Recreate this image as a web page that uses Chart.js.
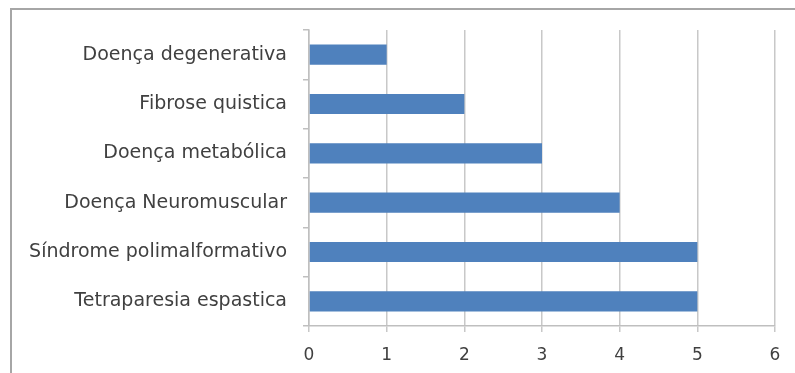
<!DOCTYPE html>
<html>
<head>
<meta charset="utf-8">
<script src="https://cdn.jsdelivr.net/npm/chart.js@4/dist/chart.umd.min.js"></script>
<style>
  html, body { margin: 0; padding: 0; background: #fff; }
  #wrap { position: relative; width: 795px; height: 373px; overflow: hidden; }
  #frame { position: absolute; left: 10px; top: 8px; width: 820px; height: 400px; border: 2px solid #a6a6a6; box-sizing: border-box; }
  #chart { position: absolute; left: 0; top: 0; }
</style>
</head>
<body>
<div id="wrap">
  <div id="frame"></div>
  <canvas id="chart" width="795" height="373"></canvas>
</div>
<script>
const categories = [
  "Doença degenerativa",
  "Fibrose quistica",
  "Doença metabólica",
  "Doença Neuromuscular",
  "Síndrome polimalformativo",
  "Tetraparesia espastica"
];
const values = [1, 2, 3, 4, 5, 5];
const xTicks = [0, 1, 2, 3, 4, 5, 6];

const ctx = document.getElementById("chart").getContext("2d");
new Chart(ctx, {
  type: "bar",
  data: {
    labels: categories,
    datasets: [{
      data: values,
      backgroundColor: "#4f81bd",
      borderWidth: 0,
      categoryPercentage: 1,
      barPercentage: 0.41
    }]
  },
  options: {
    indexAxis: "y",
    responsive: false,
    animation: false,
    layout: { padding: { left: 10, top: 30, right: 20, bottom: 0 } },
    plugins: { legend: { display: false }, tooltip: { enabled: false } },
    scales: {
      x: {
        min: 0,
        max: 6,
        afterBuildTicks: (scale) => { scale.ticks = xTicks.map(v => ({ value: v })); },
        afterFit: (scale) => { scale.height = 47; },
        border: { color: "#bfbfbf", width: 1.5 },
        grid: { color: "#c8c8c8", lineWidth: 1.5, tickLength: 6 },
        ticks: { color: "#404040", font: { family: "DejaVu Sans", size: 17 }, padding: 13 }
      },
      y: {
        afterFit: (scale) => { scale.width = 299; },
        border: { color: "#bfbfbf", width: 1.5 },
        grid: { drawOnChartArea: false, color: "#bfbfbf", lineWidth: 1.5, tickLength: 6 },
        ticks: { color: "#404040", font: { family: "DejaVu Sans", size: 19 }, padding: 16 }
      }
    }
  }
});
</script>
</body>
</html>
